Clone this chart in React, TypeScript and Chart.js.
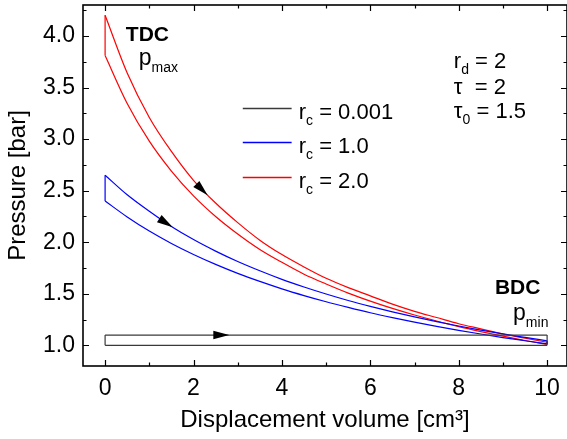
import React, { useEffect, useRef } from "react";
import { Chart, registerables } from "chart.js";

Chart.register(...registerables);

// ---------- data ----------
const volume = [0, 0.5, 1, 1.5, 2, 2.5, 3, 3.5, 4, 4.5, 5, 5.5, 6, 6.5, 7, 7.5, 8, 8.5, 9, 9.5, 10];
// r_c = 2.0 (red)
const redExpansion = [4.2, 3.64, 3.21, 2.88, 2.6, 2.38, 2.19, 2.02, 1.88, 1.76, 1.65, 1.56, 1.48, 1.4, 1.33, 1.27, 1.21, 1.16, 1.11, 1.07, 1.03];
const redCompression = [3.81, 3.345, 2.98, 2.69, 2.45, 2.25, 2.08, 1.93, 1.805, 1.69, 1.595, 1.507, 1.429, 1.358, 1.294, 1.236, 1.182, 1.134, 1.089, 1.047, 1.01];
// r_c = 1.0 (blue)
const blueExpansion = [2.65, 2.46, 2.3, 2.153, 2.026, 1.914, 1.813, 1.723, 1.64, 1.566, 1.498, 1.435, 1.378, 1.325, 1.276, 1.23, 1.188, 1.148, 1.111, 1.077, 1.044];
const blueCompression = [2.4, 2.245, 2.108, 1.988, 1.881, 1.785, 1.698, 1.62, 1.548, 1.483, 1.423, 1.368, 1.316, 1.269, 1.225, 1.184, 1.146, 1.11, 1.076, 1.045, 1.015];
// r_c = 0.001 (black)
const blackVolume = [0, 10];
const blackExpansion = [1.1, 1.1];
const blackCompression = [1.0, 1.0];

const cycleLabels = ["0.001", "1.0", "2.0"];
const xTickValues = [0, 2, 4, 6, 8, 10];
const yTickValues = [1.0, 1.5, 2.0, 2.5, 3.0, 3.5, 4.0];
const xMinorValues = [1, 3, 5, 7, 9];
const yMinorValues = [1.25, 1.75, 2.25, 2.75, 3.25, 3.75, 4.25];

// arrow positions (volume at arrow tip)
const redArrowAt = 2.32;
const blueArrowAt = 1.53;
const blackArrowAt = 2.81;

// ---------- styles ----------
const FONT = '"Liberation Sans", Arial, Helvetica, sans-serif';
const RED = "rgb(255,0,0)";
const BLUE = "rgb(0,0,255)";
const BLACK = "rgb(58,58,58)";
const LEGEND_COLORS = [BLACK, BLUE, RED];

const pts = (xs: number[], ys: number[]) => xs.map((x, i) => ({ x, y: ys[i] }));
const last = (a: number[]) => a[a.length - 1];

function cycleDatasets(xs: number[], up: number[], low: number[], color: string, curved: boolean) {
  const base = {
    borderColor: color,
    backgroundColor: color,
    borderWidth: 1.2,
    pointRadius: 0,
    showLine: true,
    fill: false,
  };
  return [
    { ...base, data: pts(xs, up), cubicInterpolationMode: curved ? "monotone" : "default", tension: 0 },
    { ...base, data: pts(xs, low), cubicInterpolationMode: curved ? "monotone" : "default", tension: 0 },
    { ...base, data: [{ x: xs[0], y: low[0] }, { x: xs[0], y: up[0] }], tension: 0 },
    { ...base, data: [{ x: last(xs), y: last(up) }, { x: last(xs), y: last(low) }], tension: 0 },
  ];
}

type Part = { text: string; size: number; bold?: boolean; dy?: number };
const annotations: { x: number; y: number; parts: Part[] }[] = [
  { x: 0.47, y: 3.953, parts: [{ text: "TDC", size: 21, bold: true }] },
  { x: 0.76, y: 3.72, parts: [{ text: "p", size: 23 }, { text: "max", size: 14, dy: 7 }] },
  { x: 8.82, y: 1.499, parts: [{ text: "BDC", size: 21, bold: true }] },
  { x: 9.23, y: 1.245, parts: [{ text: "p", size: 23 }, { text: "min", size: 14, dy: 7 }] },
  { x: 7.89, y: 3.691, parts: [{ text: "r", size: 22 }, { text: "d", size: 14, dy: 6 }, { text: " = 2", size: 22 }] },
  { x: 7.89, y: 3.439, parts: [{ text: "\u03c4  = 2", size: 22 }] },
  { x: 7.89, y: 3.206, parts: [{ text: "\u03c4", size: 22 }, { text: "0", size: 14, dy: 6 }, { text: " = 1.5", size: 22 }] },
];

// legend placement (data units)
const legendLineX = [3.115, 4.22];
const legendTextX = 4.38;
const legendLineY = [3.3, 2.97, 2.63];
const legendTextY = [3.19, 2.867, 2.527];

function drawRich(ctx: CanvasRenderingContext2D, x: number, y: number, parts: Part[]) {
  let cx = x;
  for (const p of parts) {
    ctx.font = `${p.bold ? "bold " : ""}${p.size}px ${FONT}`;
    ctx.fillText(p.text, cx, y + (p.dy || 0));
    cx += ctx.measureText(p.text).width;
  }
}

const decorPlugin = {
  id: "decor",
  afterDatasetsDraw(chart: any) {
    const { ctx, chartArea: a, scales } = chart;
    const xs = scales.x;
    const ys = scales.y;
    ctx.save();

    // arrows
    const arrow = (dsIndex: number, xv: number) => {
      const line = chart.getDatasetMeta(dsIndex).dataset;
      const px = xs.getPixelForValue(xv);
      let p1 = line.interpolate({ x: px }, "x");
      let p0 = line.interpolate({ x: px - 4 }, "x");
      if (Array.isArray(p1)) p1 = p1[0];
      if (Array.isArray(p0)) p0 = p0[0];
      if (!p1 || !p0) return;
      let dx = p1.x - p0.x;
      let dy = p1.y - p0.y;
      const len = Math.hypot(dx, dy) || 1;
      dx /= len;
      dy /= len;
      const L = 16;
      const W = 4.3;
      const bx = p1.x - dx * L;
      const by = p1.y - dy * L;
      ctx.beginPath();
      ctx.moveTo(p1.x, p1.y);
      ctx.lineTo(bx - dy * W, by + dx * W);
      ctx.lineTo(bx + dy * W, by - dx * W);
      ctx.closePath();
      ctx.fillStyle = "#000";
      ctx.fill();
    };
    arrow(0, blackArrowAt);
    arrow(4, blueArrowAt);
    arrow(8, redArrowAt);

    // frame
    ctx.strokeStyle = "#000";
    ctx.lineWidth = 1.6;
    ctx.strokeRect(a.left, a.top, a.right - a.left, a.bottom - a.top);
    ctx.lineWidth = 1.2;
    const tickX = (v: number, len: number) => {
      const p = Math.round(xs.getPixelForValue(v)) + 0.5;
      ctx.beginPath();
      ctx.moveTo(p, a.bottom);
      ctx.lineTo(p, a.bottom - len);
      ctx.moveTo(p, a.top);
      ctx.lineTo(p, a.top + len);
      ctx.stroke();
    };
    const tickY = (v: number, len: number) => {
      const p = Math.round(ys.getPixelForValue(v)) + 0.5;
      ctx.beginPath();
      ctx.moveTo(a.left, p);
      ctx.lineTo(a.left + len, p);
      ctx.moveTo(a.right, p);
      ctx.lineTo(a.right - len, p);
      ctx.stroke();
    };
    xTickValues.forEach((v) => tickX(v, 6));
    xMinorValues.forEach((v) => tickX(v, 3.5));
    yTickValues.forEach((v) => tickY(v, 6));
    yMinorValues.forEach((v) => tickY(v, 3.5));

    // annotations
    ctx.fillStyle = "#000";
    ctx.textAlign = "left";
    ctx.textBaseline = "alphabetic";
    for (const an of annotations) {
      drawRich(ctx, xs.getPixelForValue(an.x), ys.getPixelForValue(an.y), an.parts);
    }

    // legend
    for (let i = 0; i < cycleLabels.length; i++) {
      const ly = Math.round(ys.getPixelForValue(legendLineY[i])) + 0.5;
      ctx.beginPath();
      ctx.strokeStyle = LEGEND_COLORS[i];
      ctx.lineWidth = 1.3;
      ctx.moveTo(xs.getPixelForValue(legendLineX[0]), ly);
      ctx.lineTo(xs.getPixelForValue(legendLineX[1]), ly);
      ctx.stroke();
      ctx.fillStyle = "#000";
      drawRich(ctx, xs.getPixelForValue(legendTextX), ys.getPixelForValue(legendTextY[i]), [
        { text: "r", size: 22 },
        { text: "c", size: 14, dy: 6 },
        { text: " = " + cycleLabels[i], size: 22 },
      ]);
    }

    ctx.restore();
  },
};

export default function App() {
  const ref = useRef<HTMLCanvasElement>(null);
  useEffect(() => {
    document.body.style.margin = "0";
    const datasets = [
      ...cycleDatasets(blackVolume, blackExpansion, blackCompression, BLACK, false),
      ...cycleDatasets(volume, blueExpansion, blueCompression, BLUE, true),
      ...cycleDatasets(volume, redExpansion, redCompression, RED, true),
    ];
    const chart = new Chart(ref.current as HTMLCanvasElement, {
      type: "scatter",
      data: { datasets: datasets as any },
      options: {
        animation: false,
        responsive: false,
        devicePixelRatio: 1,
        layout: { padding: { top: 5, right: 0, left: 0, bottom: 0 } },
        plugins: { legend: { display: false }, tooltip: { enabled: false } },
        scales: {
          x: {
            type: "linear",
            min: -0.5,
            max: 10.45,
            grid: { display: false, drawTicks: false },
            border: { display: false },
            afterBuildTicks: (s: any) => {
              s.ticks = xTickValues.map((v) => ({ value: v }));
            },
            afterFit: (s: any) => {
              s.height = 73;
              s.paddingLeft = 0;
              s.paddingRight = 0;
              s.paddingTop = 0;
              s.paddingBottom = 0;
            },
            ticks: {
              color: "#000",
              padding: 9,
              maxRotation: 0,
              font: { family: FONT, size: 23 },
              callback: (v: any) => String(v),
            },
            title: {
              display: true,
              text: "Displacement volume [cm\u00b3]",
              color: "#000",
              font: { family: FONT, size: 24 },
              padding: { top: 0, bottom: 4 },
            },
          },
          y: {
            type: "linear",
            min: 0.8,
            max: 4.3,
            grid: { display: false, drawTicks: false },
            border: { display: false },
            afterBuildTicks: (s: any) => {
              s.ticks = yTickValues.map((v) => ({ value: v }));
            },
            afterFit: (s: any) => {
              s.width = 83;
              s.paddingLeft = 0;
              s.paddingRight = 0;
              s.paddingTop = 0;
              s.paddingBottom = 0;
            },
            ticks: {
              color: "#000",
              padding: 8,
              font: { family: FONT, size: 23 },
              callback: (v: any) => Number(v).toFixed(1),
            },
            title: {
              display: true,
              text: "Pressure [bar]",
              color: "#000",
              font: { family: FONT, size: 24 },
              padding: { top: 4, bottom: 0 },
            },
          },
        },
      },
      plugins: [decorPlugin],
    } as any);
    return () => chart.destroy();
  }, []);
  return (
    <div style={{ position: "relative", width: 567, height: 439 }}>
      <canvas ref={ref} width={567} height={439} />
    </div>
  );
}
